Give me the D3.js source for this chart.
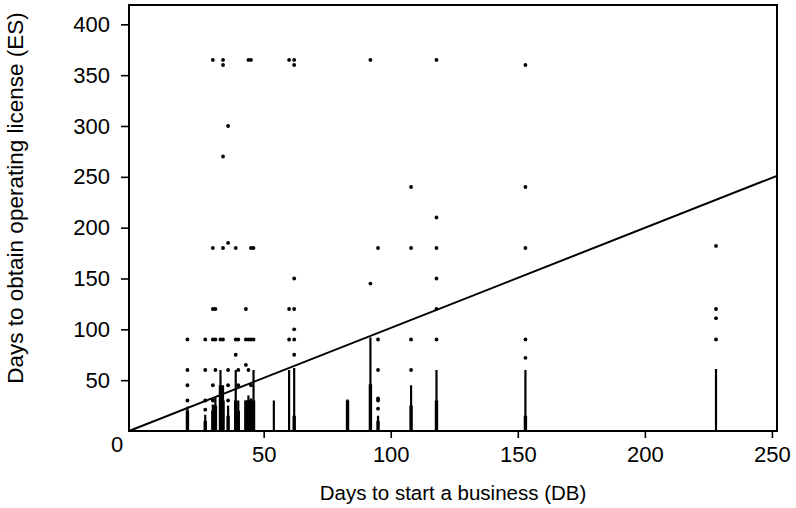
<!DOCTYPE html>
<html>
<head>
<meta charset="utf-8">
<script src="https://cdn.jsdelivr.net/npm/d3@7"></script>
<style>
  body { margin: 0; background: #fff; }
  text { font-family: "Liberation Sans", Arial, sans-serif; fill: #000; }
</style>
</head>
<body>
<script>
// days to start a business (DB), one entry per column of points
var dbDays = [20, 27, 30, 31, 33, 34, 36, 39, 40, 43, 44, 45, 46, 54, 60, 62, 83, 92, 95, 108, 118, 153, 228];
// separate ES observations in each column
var esPoints = [
  [90, 60, 45, 30],
  [90, 60, 30, 21],
  [365, 180, 120, 90, 45, 30],
  [120, 90, 60],
  [90],
  [365, 360, 270, 180, 90],
  [300, 185, 60, 45, 30],
  [180, 90, 75],
  [90, 60, 45],
  [120, 90, 65],
  [365, 90, 60],
  [365, 180, 90, 45],
  [180, 90],
  [],
  [365, 120, 90],
  [365, 360, 150, 120, 100, 90, 75],
  [],
  [365, 145],
  [180, 90, 60, 32, 30, 22],
  [240, 180, 90, 60],
  [365, 210, 180, 150, 120, 90],
  [360, 240, 180, 90, 72],
  [182, 120, 111, 90]
];
// observations packed so tightly they read as a bar from 0 up to this value
var esDenseTop = [24, 16, 26, 33, 60, 45, 25, 60, 30, 30, 35, 32, 60, 30, 60, 62, 31, 92, 15, 45, 60, 60, 61];
// the most crowded lower part of each bar
var esCoreTop = [20, 10, 20, 25, 45, 30, 15, 30, 20, 30, 30, 30, 30, 0, 0, 15, 30, 46, 10, 25, 30, 15, 0];
// the reference line drawn across the plot
var refX = [-3, 252];
var refY = [0, 251];
var xTicks = [50, 100, 150, 200, 250];
var yTicks = [50, 100, 150, 200, 250, 300, 350, 400];

var W = 796, H = 508;
var pLeft = 129, pRight = 777, pTop = 5, pBottom = 431;

var svg = d3.select("body").append("svg")
  .attr("width", W)
  .attr("height", H);

var x = d3.scaleLinear().domain([-3, 252]).range([pLeft, pRight]);
var y = d3.scaleLinear().domain([0, 419]).range([pBottom, pTop]);

// dense columns
svg.append("g").selectAll("line")
  .data(dbDays)
  .enter().append("line")
  .attr("x1", function(d) { return x(d); })
  .attr("x2", function(d) { return x(d); })
  .attr("y1", y(0))
  .attr("y2", function(d, i) { return y(esDenseTop[i]); })
  .attr("stroke", "#000")
  .attr("stroke-width", 2.2);

svg.append("g").selectAll("line")
  .data(dbDays)
  .enter().append("line")
  .attr("x1", function(d) { return x(d); })
  .attr("x2", function(d) { return x(d); })
  .attr("y1", y(0))
  .attr("y2", function(d, i) { return y(esCoreTop[i]); })
  .attr("stroke", "#000")
  .attr("stroke-width", 3.4);

// single points
var pts = [];
for (var i = 0; i < dbDays.length; i++) {
  for (var j = 0; j < esPoints[i].length; j++) {
    pts.push({ x: dbDays[i], y: esPoints[i][j] });
  }
}
svg.append("g").selectAll("circle")
  .data(pts)
  .enter().append("circle")
  .attr("cx", function(d) { return x(d.x); })
  .attr("cy", function(d) { return y(d.y); })
  .attr("r", 1.9)
  .attr("fill", "#000");

// reference line
var refLine = refX.map(function(v, k) { return [v, refY[k]]; });
svg.append("path")
  .attr("d", d3.line().x(function(d) { return x(d[0]); }).y(function(d) { return y(d[1]); })(refLine))
  .attr("fill", "none")
  .attr("stroke", "#000")
  .attr("stroke-width", 2);

// frame
svg.append("rect")
  .attr("x", pLeft).attr("y", pTop)
  .attr("width", pRight - pLeft).attr("height", pBottom - pTop)
  .attr("fill", "none")
  .attr("stroke", "#000")
  .attr("stroke-width", 2);

var xAxis = svg.append("g")
  .attr("transform", "translate(0," + pBottom + ")")
  .call(d3.axisBottom(x).tickValues(xTicks).tickSize(7).tickPadding(8));
var yAxis = svg.append("g")
  .attr("transform", "translate(" + pLeft + ",0)")
  .call(d3.axisLeft(y).tickValues(yTicks).tickSize(8).tickPadding(11));

[xAxis, yAxis].forEach(function(a) {
  a.select(".domain").remove();
  a.selectAll("line").attr("stroke", "#000").attr("stroke-width", 1.6);
  a.selectAll("text").attr("font-size", 22).attr("font-family", "Liberation Sans, Arial, sans-serif").attr("fill", "#000");
});

svg.append("text")
  .attr("x", 117).attr("y", 452)
  .attr("text-anchor", "middle")
  .attr("font-size", 22)
  .text("0");

svg.append("text")
  .attr("x", 453).attr("y", 500)
  .attr("text-anchor", "middle")
  .attr("font-size", 20.5)
  .text("Days to start a business (DB)");

svg.append("text")
  .attr("transform", "translate(23,198) rotate(-90)")
  .attr("text-anchor", "middle")
  .attr("font-size", 22.5)
  .text("Days to obtain operating license (ES)");
</script>
</body>
</html>
